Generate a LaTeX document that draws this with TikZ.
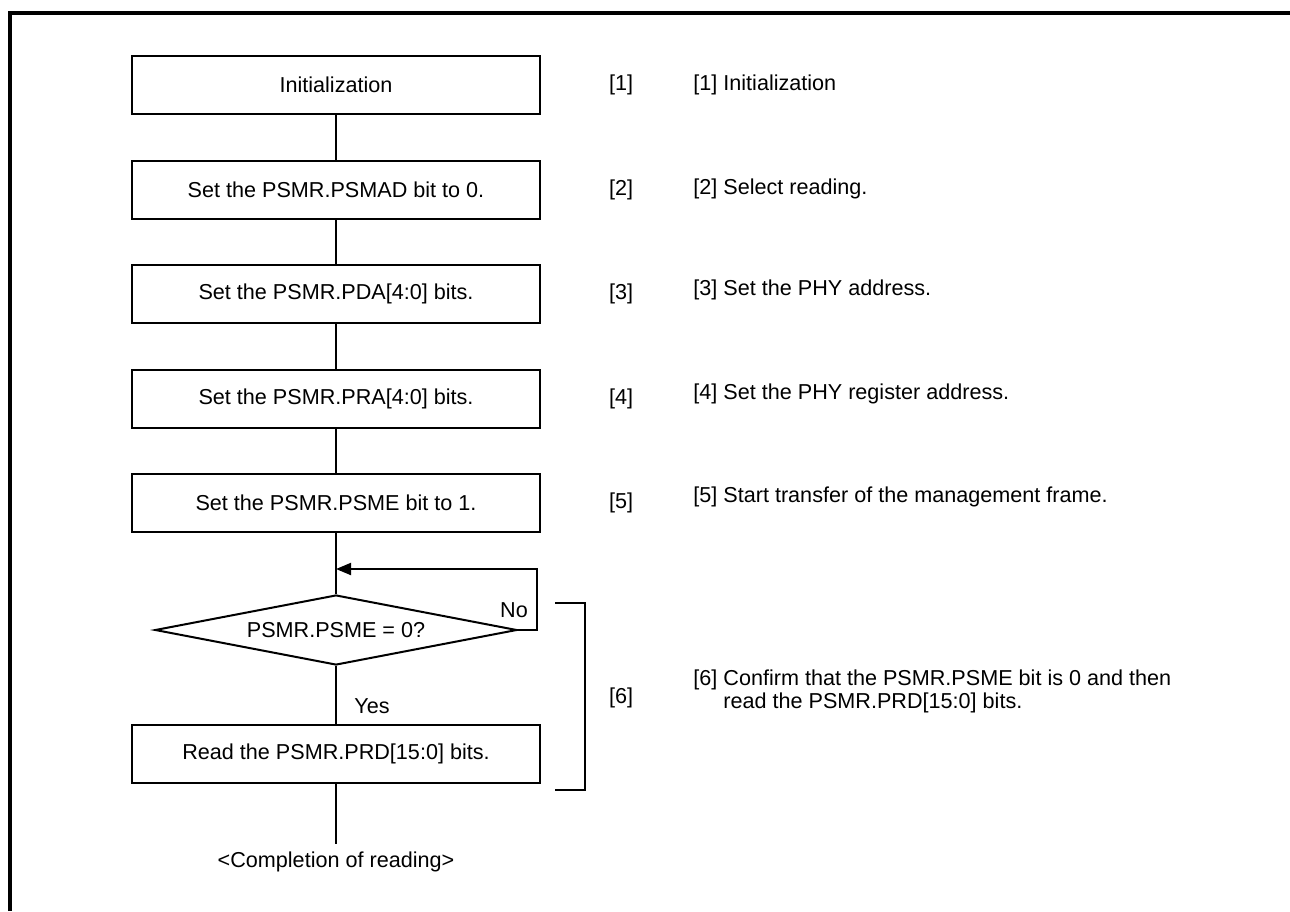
\documentclass[tikz,border=0pt]{standalone}
\usepackage{fontspec}
\setmainfont{Liberation Sans}
\usepackage{tikz}
\usetikzlibrary{shapes.geometric, arrows.meta, positioning, calc}
\tikzstyle{stepbox} = [rectangle, draw, minimum width=204pt, minimum height=29pt, inner sep=0pt, line width=1pt]
\tikzstyle{decision} = [diamond, draw, aspect=5.17, minimum width=181pt, minimum height=35pt, inner sep=0pt, line width=1pt]
\tikzstyle{note} = [anchor=west, inner sep=0pt, align=left]
\tikzstyle{tag} = [inner sep=0pt]
\tikzstyle{line} = [line width=1pt]
\tikzstyle{arrow} = [-{Triangle[length=7.5pt, width=6pt]}, line width=1pt]

\begin{document}
\begin{tikzpicture}[x=0.5pt, y=-0.5pt, every node/.style={font=\fontsize{10.8}{11.5}\selectfont}]
    \useasboundingbox (0,0) rectangle (1290,911);
    % Frame
    \draw[line width=2pt] (9.5,911) -- (9.5,13) -- (1290,13);

    % Processing steps
    \node[stepbox] (init) at (336,85) {Initialization};
    \node[stepbox] (psmad) at (336,190) {Set the PSMR.PSMAD bit to 0.};
    \node[stepbox] (pda) at (336,294) {Set the PSMR.PDA[4:0] bits.};
    \node[stepbox] (pra) at (336,399) {Set the PSMR.PRA[4:0] bits.};
    \node[stepbox] (psme) at (336,503) {Set the PSMR.PSME bit to 1.};
    \node[decision] (check) at (336,630) {PSMR.PSME = 0?};
    \node[stepbox] (prd) at (336,753.5) {Read the PSMR.PRD[15:0] bits.};
    \node[inner sep=4pt] (done) at (336,862) {<Completion of reading>};

    % Connectors
    \draw[line] (init) -- (psmad);
    \draw[line] (psmad) -- (pda);
    \draw[line] (pda) -- (pra);
    \draw[line] (pra) -- (psme);
    \draw[line] (psme) -- (check);
    \draw[line] (check) -- (prd);
    \draw[line] (prd) -- (done);
    \coordinate (join) at (336,569);
    \coordinate (back) at (537,569);
    \draw[arrow] (check.east) -| (back) -- (join);
    \node[tag] (no) at (514,610) {No};
    \node[tag] (yes) at (372,706) {Yes};

    % Step numbers
    \node[tag] (l1) at (621,85) {[1]};
    \node[tag] (l2) at (621,190) {[2]};
    \node[tag] (l3) at (621,294) {[3]};
    \node[tag] (l4) at (621,399) {[4]};
    \node[tag] (l5) at (621,503) {[5]};
    \node[tag] (l6) at (621,698) {[6]};
    \draw[line] (555,603) -- (585,603) -- (585,790) -- (555,790);

    % Descriptions
    \node[note] (n1) at (693,85) {[1] Initialization};
    \node[note] (n2) at (693,189) {[2] Select reading.};
    \node[note] (n3) at (693,290) {[3] Set the PHY address.};
    \node[note] (n4) at (693,394) {[4] Set the PHY register address.};
    \node[note] (n5) at (693,497) {[5] Start transfer of the management frame.};
    \node[note] (n6) at (693,691) {[6] Confirm that the PSMR.PSME bit is 0 and then\\\hphantom{[6]~}read the PSMR.PRD[15:0] bits.};
\end{tikzpicture}
\end{document}
